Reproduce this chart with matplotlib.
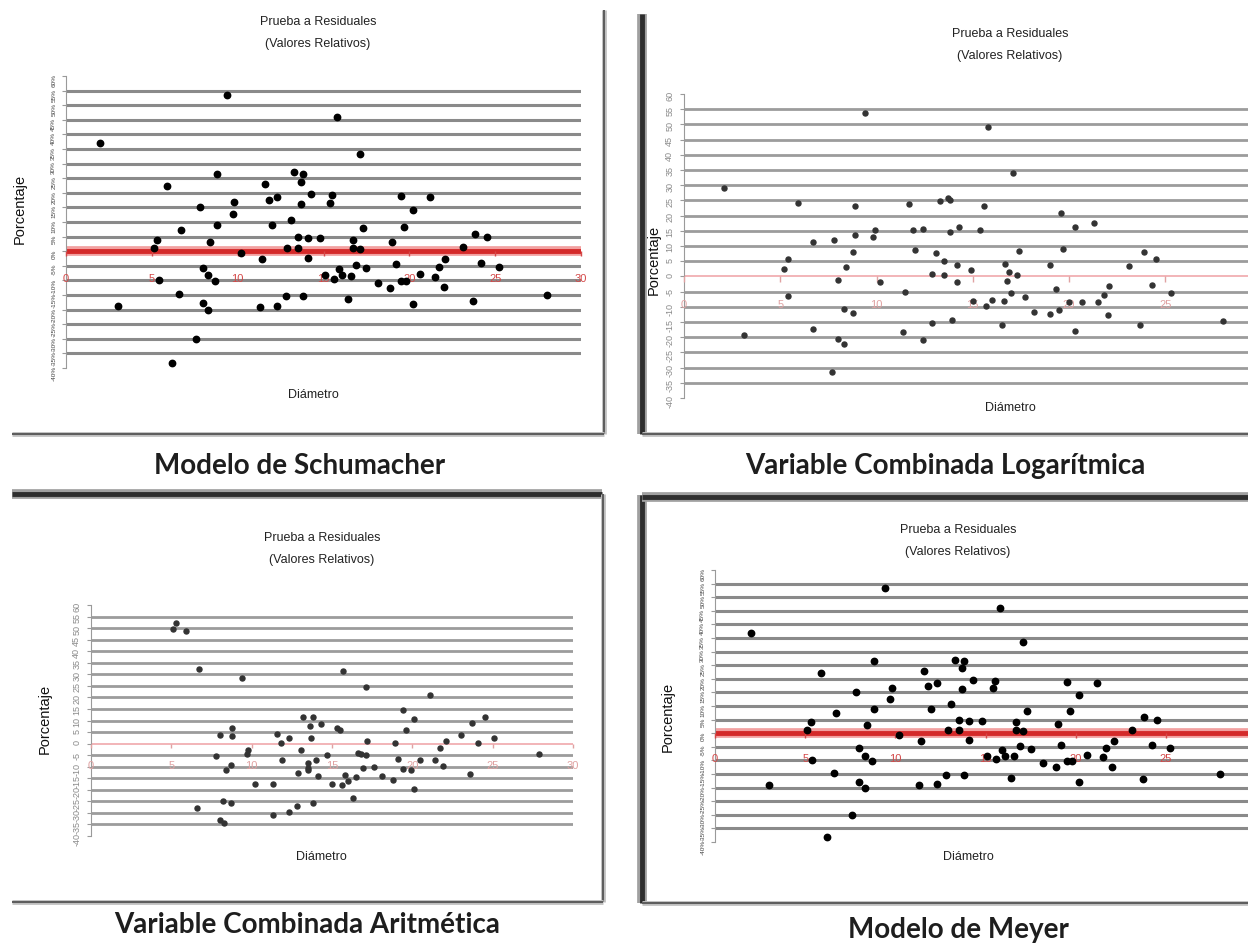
import matplotlib
matplotlib.use("Agg")
import matplotlib.pyplot as plt

plt.rcParams['font.family'] = ['Liberation Sans', 'DejaVu Sans']

W, H = 1248, 943

# Residuales relativos (%) contra diametro, leidos de cada grafico
# Schumacher (Meyer muestra los mismos puntos)
schum_x = [2.0, 9.4, 15.8, 17.1, 8.8, 5.9, 13.3, 13.8, 13.7, 11.6, 11.8, 12.3, 14.3, 13.7, 15.5, 15.4, 9.8,
           9.7, 7.8, 19.5, 21.2, 20.2, 13.1, 12.0, 8.8, 6.7, 17.3, 19.7, 5.3, 8.4, 13.5, 14.1, 14.8, 16.7,
           19.0, 23.8, 24.5, 5.1, 12.9, 13.5, 16.7, 17.1, 23.1, 10.2, 11.4, 14.1, 22.1, 25.2, 24.2, 8.0,
           19.2, 16.9, 17.5, 21.7, 15.9, 5.4, 8.3, 8.7, 15.1, 15.6, 16.1, 16.6, 18.2, 18.9, 19.5, 19.8,
           20.6, 21.5, 22.0, 6.6, 13.8, 12.8, 16.4, 23.7, 28.0, 3.0, 8.0, 8.3, 11.3, 12.3, 20.2, 7.6, 6.2]
schum_y = [37.0, 53.4, 46.1, 33.4, 26.6, 22.3, 27.0, 26.6, 23.8, 22.9, 17.4, 18.5, 19.5, 16.1, 19.3, 16.5,
           16.8, 12.7, 15.3, 18.9, 18.4, 14.2, 10.6, 8.9, 9.0, 7.4, 8.0, 8.2, 4.0, 3.1, 4.9, 4.5, 4.5, 4.0,
           3.2, 5.9, 4.9, 1.2, 1.2, 1.2, 1.2, 0.8, 1.3, -0.7, -2.8, -2.4, -2.8, -5.3, -4.2, -5.6, -4.5,
           -4.7, -5.9, -5.4, -6.2, -9.9, -8.2, -10.1, -8.2, -9.6, -8.2, -8.4, -10.9, -12.5, -10.1, -10.1,
           -7.9, -8.8, -12.4, -14.6, -15.2, -15.2, -16.3, -16.9, -15.0, -18.9, -17.8, -20.1, -19.2, -18.8,
           -18.0, -29.9, -38.2]

# Variable combinada logaritmica
log_x = [2.1, 3.1, 5.2, 5.4, 5.4, 5.9, 6.7, 6.7, 7.7, 7.8, 8.0, 8.0, 8.3, 8.3, 8.4, 8.8, 8.8, 8.9, 8.9,
         9.4, 9.8, 9.9, 10.2, 11.4, 11.5, 11.7, 11.9, 12.0, 12.4, 12.4, 12.9, 12.9, 13.1, 13.3, 13.5, 13.5,
         13.7, 13.8, 13.8, 13.9, 14.2, 14.2, 14.3, 14.9, 15.0, 15.4, 15.6, 15.7, 15.8, 16.0, 16.5, 16.6,
         16.7, 16.8, 16.9, 17.0, 17.1, 17.3, 17.4, 17.7, 18.2, 19.0, 19.0, 19.3, 19.5, 19.6, 19.7, 20.0,
         20.3, 20.3, 20.7, 21.3, 21.5, 21.8, 22.0, 22.1, 23.1, 23.7, 23.9, 24.3, 24.5, 25.3, 28.0]
log_y = [29.2, -19.4, 2.5, 5.7, -6.3, 24.3, 11.2, -17.3, -31.4, 12.0, -1.3, -20.5, -22.2, -10.6, 3.0, 7.9,
         -12.0, 23.0, 13.7, 53.6, 12.9, 15.3, -1.9, -18.3, -5.1, 23.7, 15.3, 8.8, 15.5, -21.0, -15.3, 0.9,
         7.7, 24.8, 5.1, 0.5, 25.7, 25.2, 14.6, -14.4, 3.8, -2.0, 16.1, 2.0, -8.2, 15.3, 23.0, -9.8, 49.0,
         -7.7, -15.9, -8.2, 4.0, -1.6, 1.3, -5.3, 33.9, 0.5, 8.2, -6.9, -11.7, -12.4, 3.6, -4.2, -10.9,
         21.0, 9.0, -8.5, 16.4, -17.8, -8.4, 17.5, -8.4, -6.0, -12.6, -3.3, 3.3, -15.9, 8.0, -2.7, 5.8,
         -5.5, -14.6]

# Variable combinada aritmetica
arit_x = [5.1, 5.3, 5.9, 6.7, 6.6, 9.4, 7.8, 8.0, 8.2, 8.0, 8.3, 8.4, 8.7, 8.7, 8.8, 8.8, 9.7, 9.8, 10.2,
          11.3, 11.3, 11.6, 11.8, 11.9, 12.3, 12.3, 12.8, 12.9, 13.1, 13.2, 13.5, 13.5, 13.5, 13.6, 13.7,
          13.8, 13.8, 14.0, 14.1, 14.3, 14.7, 15.0, 15.3, 15.5, 15.6, 15.7, 15.8, 16.0, 16.3, 16.5, 16.6,
          16.8, 16.9, 17.1, 17.1, 17.2, 17.6, 18.1, 18.8, 18.9, 19.1, 19.4, 19.4, 19.6, 19.9, 20.1, 20.1,
          20.5, 21.1, 21.4, 21.7, 21.9, 22.1, 23.0, 23.6, 23.7, 24.1, 24.5, 25.1, 27.9]
arit_y = [49.4, 52.0, 48.7, 32.4, -27.7, 28.6, -5.5, 3.6, -25.0, -32.9, -34.4, -11.6, -9.4, -25.7, 6.9,
          3.3, -4.6, -2.9, -17.3, -17.6, -31.1, 4.0, 0.3, -6.9, 2.5, -29.6, -27.0, -12.7, -2.6, 11.6, -8.4,
          -10.5, -11.6, 7.7, 2.6, 11.6, -25.7, -7.2, -14.2, 8.7, -5.1, -17.3, 6.8, 6.1, -18.1, 31.4, -13.4,
          -16.2, -23.6, -14.5, -4.0, -4.3, -10.5, -5.1, 24.6, 1.0, -10.1, -14.0, -15.6, 0.3, -6.5, 14.5,
          -10.8, 6.1, -11.6, 10.8, -19.8, -6.9, 21.2, -6.9, -1.7, -9.7, 1.2, 3.6, -13.3, 9.1, 0.3, 11.6,
          2.6, -4.6]

# Modelo de Meyer
meyer_x = list(schum_x)
meyer_y = list(schum_y)

y_ticks = list(range(-40, 61, 5))
x_labels = [0, 5, 10, 15, 20, 25, 30]
modelos = ["Modelo de Schumacher", "Variable Combinada Logarítmica",
           "Variable Combinada Aritmética", "Modelo de Meyer"]

fig = plt.figure(figsize=(W / 100, H / 100), dpi=100)
fig.patch.set_facecolor('white')

# fondo en pixeles para marcos y textos
bg = fig.add_axes([0, 0, 1, 1], zorder=0)
bg.set_xlim(0, W)
bg.set_ylim(H, 0)
bg.axis('off')


def frame(xs, ys, thick):
    if thick:
        bg.plot(xs, ys, color='#a0a0a0', lw=7, solid_capstyle='butt')
        bg.plot(xs, ys, color='#2e2e2e', lw=3.5, solid_capstyle='butt')
    else:
        bg.plot(xs, ys, color='#c4c4c4', lw=3.5, solid_capstyle='butt')
        bg.plot(xs, ys, color='#5e5e5e', lw=1.5, solid_capstyle='butt')


def panel(x0, ppu, xmax, ytop, ybot):
    ax = fig.add_axes([x0 / W, 1 - ybot / H, xmax * ppu / W, (ybot - ytop) / H], zorder=2)
    ax.set_facecolor('none')
    ax.set_xlim(0, xmax)
    ax.set_ylim(-40, 60)
    for s in ['top', 'right', 'bottom']:
        ax.spines[s].set_visible(False)
    ax.spines['left'].set_color('#9a9a9a')
    ax.spines['left'].set_linewidth(0.8)
    ax.set_xticks([])
    ax.set_yticks(y_ticks)
    return ax


def draw(ax, xs, ys, heavy, xlim_grid):
    grid = [v for v in y_ticks if -40 < v < 60 and v != 0]
    if heavy:
        ax.hlines(grid, 0, xlim_grid, color='#8a8a8a', lw=2.2, zorder=1)
        ax.hlines(0, 0, xlim_grid, color='#f2a0a0', lw=7, zorder=2)
        ax.hlines(0, 0, xlim_grid, color='#d42a2a', lw=3.5, zorder=2)
        lab_col = '#d44848'
        ax.plot(xs, ys, 'o', color='black', ms=4.6, zorder=4)
        ax.set_yticklabels([f"{v}%" for v in y_ticks])
        ax.tick_params(axis='y', length=3, color='#9a9a9a', labelrotation=90,
                       labelsize=4.6, labelcolor='#444444', pad=4)
    else:
        ax.hlines(grid, 0, xlim_grid, color='#9c9c9c', lw=2.0, zorder=1)
        ax.hlines(0, 0, xlim_grid, color='#f0a8ac', lw=1.2, zorder=2)
        lab_col = '#e0a2a2'
        ax.plot(xs, ys, 'o', color='#333333', ms=3.6, zorder=4)
        ax.set_yticklabels([str(v) for v in y_ticks])
        ax.tick_params(axis='y', length=3, color='#9a9a9a', labelrotation=90,
                       labelsize=6.5, labelcolor='#8a8a8a', pad=4)
    for v in x_labels:
        if v > xlim_grid:
            continue
        ax.vlines(v, -1.8, 0, color=lab_col, lw=1, zorder=3, clip_on=False)
        ax.text(v, -9.5, str(v), color=lab_col, fontsize=8, ha='center', va='center',
                zorder=3, clip_on=False)


def textos(cx, ty, px, py, dx, dy, title, tx, tty):
    bg.text(cx, ty, "Prueba a Residuales", fontsize=9, ha='center', va='center', color='#222222')
    bg.text(cx, ty + 22, "(Valores Relativos)", fontsize=9, ha='center', va='center', color='#222222')
    bg.text(px, py, "Porcentaje", fontsize=10.5, rotation=90, ha='center', va='center', color='#111111')
    bg.text(dx, dy, "Diámetro", fontsize=9, ha='center', va='center', color='#222222')
    bg.text(tx, tty, title, fontsize=20, fontweight='bold', family=['Lato', 'DejaVu Sans'],
            ha='center', va='center', color='#1e1e1e')


# marcos de las cuatro imagenes
frame([604, 604], [10, 434], False)
frame([12, 604], [434, 434], False)
frame([642, 642], [14, 434], True)
frame([642, 1248], [434, 434], False)
frame([12, 602], [494, 494], True)
frame([603, 603], [494, 902], False)
frame([12, 603], [902, 902], False)
frame([642, 642], [495, 903], True)
frame([642, 1248], [497, 497], True)
frame([642, 1248], [903, 903], False)

# Schumacher
ax1 = panel(66, 515 / 30, 30, 76, 368)
draw(ax1, schum_x, schum_y, True, 30)
textos(318, 22, 20, 209, 313, 395, modelos[0], 300, 466)

# Logaritmica
xmax2 = (1248 - 684) / 19.25
ax2 = panel(684, 19.25, xmax2, 94, 398)
draw(ax2, log_x, log_y, False, xmax2)
textos(1010, 34, 654, 260, 1010, 408, modelos[1], 945, 466)

# Aritmetica
ax3 = panel(91, 482 / 30, 30, 605, 836)
draw(ax3, arit_x, arit_y, False, 30)
textos(322, 538, 45, 719, 321, 857, modelos[2], 307, 925)

# Meyer
xmax4 = (1248 - 715) / 18.04
ax4 = panel(715, 18.04, xmax4, 570, 842)
draw(ax4, meyer_x, meyer_y, True, xmax4)
textos(958, 530, 668, 717, 968, 857, modelos[3], 958, 930)

fig.savefig("out.png", dpi=100, facecolor='white')
